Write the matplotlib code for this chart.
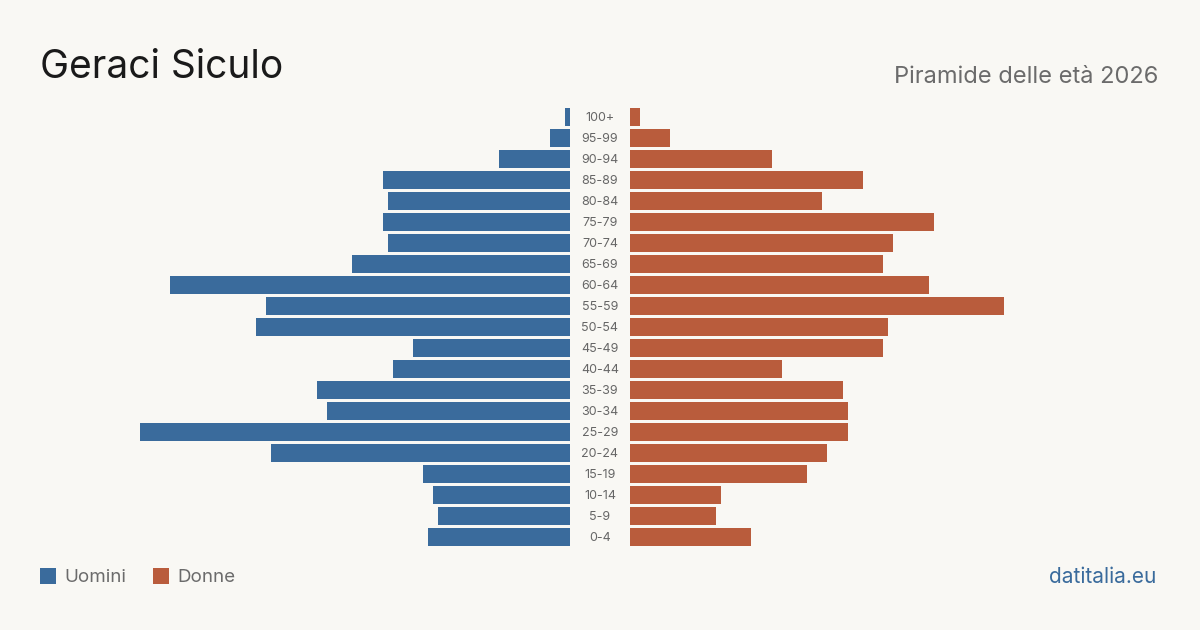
import matplotlib
matplotlib.use("Agg")
import matplotlib.pyplot as plt
from matplotlib.patches import Rectangle

age_groups = ["0-4", "5-9", "10-14", "15-19", "20-24", "25-29", "30-34", "35-39",
              "40-44", "45-49", "50-54", "55-59", "60-64", "65-69", "70-74",
              "75-79", "80-84", "85-89", "90-94", "95-99", "100+"]
men = [28, 26, 27, 29, 59, 85, 48, 50, 35, 31, 62, 60, 79, 43, 36, 37, 36, 37, 14, 4, 1]
women = [24, 17, 18, 35, 39, 43, 43, 42, 30, 50, 51, 74, 59, 50, 52, 60, 38, 46, 28, 8, 2]

BG = "#f9f8f4"
BLUE = "#3a6b9c"
ORANGE = "#b95c3c"
W, H = 1200, 630
plt.rcParams['font.family'] = ['Inter', 'DejaVu Sans']

fig = plt.figure(figsize=(12, 6.3), dpi=100, facecolor=BG)

def fx(px):
    return px / W

def fy(py):
    return 1 - py / H

px_per_unit = 5.06
top, bottom = 106.5, 547.5
ax_h = (bottom - top) / H
ax_b = fy(bottom)

left_ax = fig.add_axes([fx(40), ax_b, fx(530), ax_h])
right_ax = fig.add_axes([fx(630), ax_b, fx(530), ax_h])
ymax = 530 / px_per_unit
n = len(age_groups)
ypos = list(range(n))
left_ax.barh(ypos, men, height=0.81, color=BLUE)
right_ax.barh(ypos, women, height=0.81, color=ORANGE)
left_ax.set_xlim(ymax, 0)
right_ax.set_xlim(0, ymax)
for a in (left_ax, right_ax):
    a.set_ylim(-0.5, n - 0.5)
    a.axis("off")
    a.set_facecolor("none")

for i, lab in enumerate(age_groups):
    yc = top + (n - 0.5 - i) / n * (bottom - top) + 1
    fig.text(fx(600), fy(yc), lab, ha="center", va="center", fontsize=9, color="#666666")

fig.text(fx(40), fy(67), "Geraci Siculo", ha="left", va="center", fontsize=28, color="#1a1a1a")
fig.text(fx(1158), fy(77), "Piramide delle età 2026", ha="right", va="center", fontsize=17, color="#6b6b6b")

fig.patches.append(Rectangle((fx(40), fy(584)), fx(16), 16 / H, transform=fig.transFigure,
                             facecolor=BLUE, edgecolor="none"))
fig.text(fx(64), fy(577), "Uomini", ha="left", va="center", fontsize=13.5, color="#6b6b6b")
fig.patches.append(Rectangle((fx(153), fy(584)), fx(16), 16 / H, transform=fig.transFigure,
                             facecolor=ORANGE, edgecolor="none"))
fig.text(fx(177), fy(577), "Donne", ha="left", va="center", fontsize=13.5, color="#6b6b6b")
fig.text(fx(1156), fy(577), "datitalia.eu", ha="right", va="center", fontsize=15, color=BLUE)

fig.savefig("out.png", dpi=100, facecolor=BG)
